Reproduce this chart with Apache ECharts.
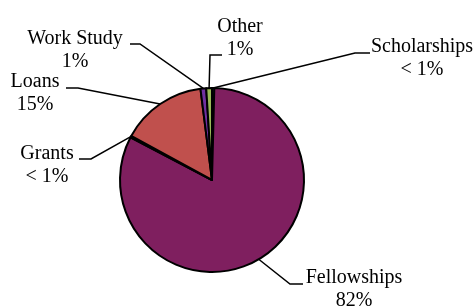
<!DOCTYPE html>
<html>
<head>
<meta charset="utf-8">
<script src="https://cdn.jsdelivr.net/npm/echarts@6/dist/echarts.min.js"></script>
<style>html,body{margin:0;padding:0;background:#fff}#c{width:475px;height:307px}</style>
</head>
<body>
<div id="c"></div>
<script>
var categories = ['Scholarships', 'Fellowships', 'Grants', 'Loans', 'Work Study', 'Other'];
var values = [0.4, 82, 0.3, 15, 1, 1];
var pctLabels = ['< 1%', '82%', '< 1%', '15%', '1%', '1%'];
var colors = ['#4F81BD', '#7F1F5F', '#1F1F5F', '#C0504D', '#7030A0', '#9BBB59'];

// label placement (layout only)
var labelPos = [[422, 58], [354, 289], [47, 165], [35, 93], [75, 50], [240, 38]];
var elbows = [
  [[355, 53], [370, 53]],
  [[290, 284], [303, 284]],
  [[91, 159], [79, 159]],
  [[78, 88], [66, 88]],
  [[140, 44], [130, 44]],
  [[210, 55], [222, 55]]
];

var data = categories.map(function (c, i) {
  return { name: c, value: values[i], itemStyle: { color: colors[i] } };
});

var chart = echarts.init(document.getElementById('c'), null, { renderer: 'canvas' });
chart.setOption({
  animation: false,
  series: [{
    type: 'pie',
    center: [212, 180],
    radius: 92,
    startAngle: 90,
    clockwise: true,
    minAngle: 0,
    avoidLabelOverlap: false,
    data: data,
    itemStyle: { borderColor: '#000', borderWidth: 2 },
    emphasis: { disabled: true },
    label: {
      show: true,
      formatter: function (p) { return p.name + '\n' + pctLabels[p.dataIndex]; },
      fontFamily: 'Liberation Serif',
      fontSize: 20,
      lineHeight: 23,
      color: '#000',
      align: 'center'
    },
    labelLine: { show: true, length: 10, length2: 10, lineStyle: { color: '#000', width: 1.5 } },
    labelLayout: function (params) {
      var i = params.dataIndex;
      var start = params.labelLinePoints ? params.labelLinePoints[0] : [212, 180];
      return {
        x: labelPos[i][0],
        y: labelPos[i][1],
        align: 'center',
        verticalAlign: 'middle',
        labelLinePoints: [start, elbows[i][0], elbows[i][1]]
      };
    }
  }]
});
</script>
</body>
</html>
